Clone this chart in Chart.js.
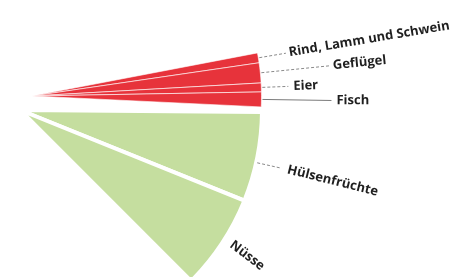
<!DOCTYPE html>
<html>
<head>
<meta charset="utf-8">
<script src="https://cdn.jsdelivr.net/npm/chart.js@4/dist/chart.umd.min.js"></script>
<style>
  html, body { margin: 0; padding: 0; background: #fff; overflow: hidden; }
  #wrap { position: relative; width: 458px; height: 277px; }
  #wrap canvas { position: absolute; left: 0; top: 0; }
</style>
</head>
<body>
<div id="wrap">
  <canvas id="redPie" width="458" height="277"></canvas>
  <canvas id="greenPie" width="458" height="277"></canvas>
</div>
<script>
    "use strict";

    const redLabels = ['Rind, Lamm und Schwein', 'Geflügel', 'Eier', 'Fisch'];
    const redValues = [2.5, 5.05, 2.25, 3.75];
    const greenLabels = ['Hülsenfrüchte', 'Nüsse'];
    const greenValues = [21.5, 23];

    const RED = '#e7333b';
    const GREEN = '#c5de9f';
    const FONT = 'bold 13px "Open Sans", sans-serif';

    Chart.defaults.font.family = '"Open Sans", sans-serif';

    // labels along each slice with a short leader
    const sliceLabels = {
        id: 'sliceLabels',
        afterDatasetsDraw(chart, args, opts) {
            const ctx = chart.ctx;
            const names = chart.data.labels;
            chart.getDatasetMeta(0).data.forEach(function (arc, i) {
                const st = opts.styles[i];
                if (!st) return;
                const p = arc.getProps(['x', 'y', 'startAngle', 'endAngle', 'outerRadius'], true);
                const a = (p.startAngle + p.endAngle) / 2 + st.shift * Math.PI / 180;
                const cos = Math.cos(a), sin = Math.sin(a);
                const r = p.outerRadius;

                ctx.save();
                if (st.line) {
                    ctx.beginPath();
                    ctx.setLineDash(st.dash ? [3, 2] : []);
                    ctx.strokeStyle = st.dash ? '#8a8a8a' : '#7a7a7a';
                    ctx.lineWidth = 1;
                    ctx.moveTo(p.x + cos * (r + 1), p.y + sin * (r + 1));
                    ctx.lineTo(p.x + cos * (r + st.line), p.y + sin * (r + st.line));
                    ctx.stroke();
                }
                ctx.setLineDash([]);
                ctx.translate(p.x + cos * (r + st.text), p.y + sin * (r + st.text));
                ctx.rotate(a + st.tilt * Math.PI / 180);
                ctx.font = FONT;
                ctx.fillStyle = '#1f1f1f';
                ctx.textAlign = 'left';
                ctx.textBaseline = 'middle';
                ctx.fillText(names[i], 0, 0);
                ctx.restore();
            });
        }
    };

    // the rest of the plate is not shown
    function plate(values) {
        const used = values.reduce(function (s, v) { return s + v; }, 0);
        return values.concat([360 - used]);
    }

    function pieConfig(labels, values, opt) {
        return {
            type: 'pie',
            data: {
                labels: labels.concat(['']),
                datasets: [{
                    data: plate(values),
                    backgroundColor: values.map(function () { return opt.color; }).concat(['rgba(0,0,0,0)']),
                    borderColor: values.map(function () { return opt.border; }).concat(['rgba(0,0,0,0)']),
                    borderWidth: values.map(function () { return opt.borderWidth; }).concat([0]),
                    clip: false
                }]
            },
            options: {
                responsive: false,
                animation: false,
                devicePixelRatio: 1,
                rotation: opt.rotation,
                radius: opt.radius,
                layout: { padding: opt.padding },
                plugins: {
                    legend: { display: false },
                    tooltip: { enabled: false },
                    sliceLabels: { styles: opt.styles }
                }
            },
            plugins: [sliceLabels]
        };
    }

    // red group, apex at (32, 96)
    new Chart(document.getElementById('redPie'), pieConfig(redLabels, redValues, {
        color: RED,
        border: 'rgba(255,255,255,0.6)',
        borderWidth: 1,
        rotation: 79.18,
        radius: 229.5,
        padding: { left: 0, right: 458 - 64, top: 0, bottom: 277 - 192 },
        styles: [
            { line: 28, text: 31, dash: true, shift: 0, tilt: 0 },
            { line: 70, text: 73, dash: true, shift: 0, tilt: 0 },
            { line: 27, text: 32, dash: true, shift: 0, tilt: 0 },
            { line: 70, text: 75, dash: false, shift: 0, tilt: -0.9 }
        ]
    }));

    // green group, apex at (20, 110)
    new Chart(document.getElementById('greenPie'), pieConfig(greenLabels, greenValues, {
        color: GREEN,
        border: '#ffffff',
        borderWidth: 4,
        rotation: 90.5,
        radius: 242,
        padding: { left: 0, right: 458 - 40, top: 0, bottom: 277 - 220 },
        styles: [
            { line: 24, text: 32, dash: true, shift: 1.3, tilt: 1.5 },
            { line: 0, text: 8, dash: false, shift: -1.2, tilt: 5 }
        ]
    }));
</script>
</body>
</html>
